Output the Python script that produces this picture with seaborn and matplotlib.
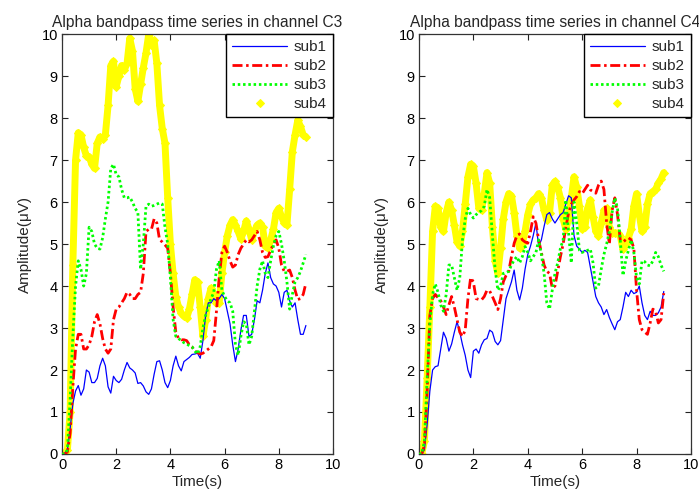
import numpy as np
import pandas as pd
import matplotlib
matplotlib.use("Agg")
import matplotlib.pyplot as plt
import seaborn as sns

# time axis (s), sampled every 0.1 s
time_s = [round(0.1 * i, 1) for i in range(91)]

# ---- channel C3 ----
c3_sub1 = [0, 0.02, 0.1, 0.6, 1.2, 1.5, 1.63, 1.4, 1.55, 2.0,
           1.95, 1.7, 1.7, 1.8, 2.1, 2.28, 2.1, 1.6, 1.45, 1.85,
           1.75, 1.7, 1.78, 2.0, 2.18, 2.05, 2.0, 1.93, 1.68, 1.7,
           1.62, 1.48, 1.42, 1.55, 1.9, 2.2, 2.22, 2.0, 1.7, 1.58,
           1.75, 2.1, 2.33, 2.1, 1.98, 2.2, 2.25, 2.3, 2.37, 2.38,
           2.4, 2.28, 2.7, 3.3, 3.6, 3.6, 3.7, 3.65, 3.7, 3.8,
           3.7, 3.4, 3.1, 2.6, 2.2, 2.5, 2.95, 3.3, 3.3, 2.8,
           2.85, 3.2, 3.65, 3.6, 3.9, 4.3, 4.55, 4.2, 4.05, 4.0,
           3.85, 3.5, 3.85, 3.9, 3.65, 3.5, 3.6, 3.2, 2.85, 2.85,
           3.06]
c3_sub2 = [0, 0.0, 0.05, 0.5, 1.6, 2.5, 2.85, 2.85, 2.5, 2.5,
           2.6, 2.8, 3.15, 3.32, 3.1, 2.75, 2.5, 2.4, 2.5, 3.2,
           3.45, 3.5, 3.6, 3.7, 3.85, 3.8, 3.7, 3.7, 3.8, 3.85,
           4.3, 5.3, 5.35, 5.35, 5.6, 5.5, 5.1, 5.05, 4.98, 4.9,
           4.3, 3.5, 2.9, 2.75, 2.72, 2.72, 2.7, 2.6, 2.55, 2.45,
           2.42, 2.38, 2.4, 2.45, 2.5, 2.55, 2.7, 3.4, 4.2, 4.8,
           4.95, 4.8, 4.6, 4.45, 4.5, 4.75, 4.9, 5.0, 5.1, 5.05,
           5.1, 5.2, 5.3, 5.1, 4.8, 4.68, 4.7, 4.85, 5.0, 5.1,
           4.9, 4.5, 4.35, 4.35, 4.38, 4.2, 3.9, 3.68, 3.7, 3.8,
           4.07]
c3_sub3 = [0, 0.0, 0.1, 1.3, 2.8, 4.0, 4.6, 4.4, 4.0, 4.3,
           5.4, 5.3, 5.0, 4.9, 4.88, 5.15, 5.6, 6.0, 6.8, 6.9,
           6.65, 6.6, 6.3, 6.1, 6.1, 6.12, 6.0, 5.85, 5.75, 4.4,
           5.0, 5.9, 5.95, 5.9, 5.92, 5.95, 5.98, 5.95, 5.4, 5.0,
           4.2, 3.2, 2.8, 2.75, 2.7, 2.65, 2.62, 2.58, 2.55, 2.45,
           2.38, 2.56, 3.0, 3.3, 3.5, 3.7, 3.85, 4.4, 4.6, 3.9,
           3.75, 3.65, 3.6, 3.4, 2.6, 2.35, 2.8, 3.15, 3.1, 2.6,
           2.8, 3.4, 4.0, 4.4, 4.6, 4.3, 4.2, 4.6, 4.95, 5.2,
           5.3, 5.0, 4.6, 4.1, 3.45, 3.8, 4.1, 4.2, 4.35, 4.55,
           4.75]
c3_sub4 = [0, 0, 0.1, 1.0, 4.5, 7.0, 7.65, 7.6, 7.3, 7.1,
           7.08, 6.9, 6.8, 7.4, 7.55, 7.5, 7.6, 8.3, 9.25, 9.35,
           8.75, 9.0, 9.25, 9.15, 9.3, 9.9, 9.6, 8.7, 8.4, 8.8,
           9.2, 9.55, 10.0, 9.75, 9.85, 9.3, 8.3, 7.75, 7.4, 6.1,
           5.0, 4.3, 3.75, 3.5, 3.35, 3.28, 3.24, 3.45, 3.8, 4.15,
           4.1, 3.5, 2.8, 3.2, 3.7, 3.95, 3.8, 3.6, 3.6, 4.3,
           4.8, 5.2, 5.45, 5.58, 5.45, 5.3, 5.12, 5.3, 5.55, 5.35,
           5.1, 5.3, 5.45, 5.5, 5.4, 4.95, 4.9, 5.1, 5.35, 5.75,
           5.85, 5.65, 5.5, 5.45, 6.3, 7.2, 7.6, 7.95, 7.8, 7.6,
           7.55]

# ---- channel C4 ----
c4_sub1 = [0, 0.0, 0.1, 0.7, 1.5, 2.0, 2.08, 2.1, 2.5, 2.9,
           2.75, 2.45, 2.62, 2.9, 3.15, 2.9, 2.6, 2.35, 2.0, 1.82,
           2.45, 2.5, 2.4, 2.6, 2.72, 2.75, 2.95, 2.9, 2.68, 2.6,
           2.7, 3.2, 3.7, 3.9, 4.1, 4.38, 3.9, 3.67, 3.95, 4.4,
           4.75, 4.95, 5.2, 5.5, 4.95, 5.1, 5.42, 5.7, 5.75, 5.6,
           5.5, 5.6, 5.7, 5.75, 5.95, 6.15, 6.1, 5.2, 4.95, 4.88,
           4.8, 4.85, 4.8, 4.45, 4.1, 3.75, 3.6, 3.5, 3.32, 3.44,
           3.25, 3.1, 2.96, 3.15, 3.2, 3.5, 3.85, 3.75, 3.9, 3.82,
           3.85, 4.0, 3.6, 3.3, 3.2, 3.4, 3.3, 3.3, 3.36, 3.5,
           3.87]
c4_sub2 = [0, 0.0, 0.2, 1.5, 3.3, 3.7, 3.8, 3.72, 3.65, 3.5,
           3.32, 3.55, 3.75, 3.5, 3.2, 2.9, 2.8, 2.95, 3.7, 4.2,
           4.1, 3.7, 3.68, 3.67, 3.75, 3.9, 3.88, 3.75, 3.6, 3.44,
           3.7, 4.1, 4.25, 4.35, 4.7, 5.02, 5.2, 5.24, 5.1, 5.05,
           5.02, 5.3, 5.65, 5.5, 5.1, 4.8, 4.5, 4.35, 4.3, 3.95,
           4.0, 4.35, 4.7, 5.0, 5.4, 5.74, 5.95, 6.05, 6.13, 6.25,
           6.2, 6.3, 6.4, 6.29, 6.25, 6.21, 6.4, 6.5, 6.3, 5.5,
           5.0, 5.8, 6.1, 5.7, 5.1, 5.05, 5.1, 5.15, 5.1, 4.9,
           3.9, 3.2, 2.96, 2.9, 2.85, 3.12, 3.45, 3.4, 3.12, 3.2,
           3.83]
c4_sub3 = [0, 0.0, 0.3, 1.8, 3.1, 3.8, 4.05, 3.85, 3.55, 3.4,
           3.8, 4.5, 4.5, 4.2, 3.9, 4.2, 5.1, 5.6, 5.85, 5.7,
           5.62, 5.7, 5.75, 5.8, 5.9, 6.3, 6.1, 5.2, 4.4, 3.9,
           4.0, 4.3, 4.32, 4.35, 4.5, 4.62, 4.7, 4.55, 4.7, 4.94,
           4.8, 4.6, 4.7, 4.8, 5.1, 4.75, 4.3, 3.6, 3.45, 3.9,
           4.3, 4.55, 4.9, 5.1, 6.05, 5.26, 4.55, 6.0, 5.5, 4.85,
           4.8, 4.83, 4.85, 4.88, 4.55, 3.95, 4.0, 4.4, 4.75, 5.0,
           5.3, 5.75, 6.1, 5.85, 5.1, 4.25, 4.6, 4.85, 5.1, 4.8,
           4.2, 4.05, 4.6, 4.58, 4.5, 4.48, 4.6, 4.8, 4.7, 4.5,
           4.35]
c4_sub4 = [0, 0.0, 0.3, 1.8, 3.5, 5.3, 5.9, 5.85, 5.4, 5.3,
           5.75, 6.0, 5.8, 5.45, 5.05, 4.95, 5.3, 5.95, 6.6, 6.9,
           6.85, 6.45, 5.85, 5.8, 6.2, 6.7, 6.45, 5.4, 4.6, 4.3,
           4.9, 5.6, 6.0, 6.2, 6.15, 5.75, 5.2, 4.9, 5.0, 5.3,
           5.7, 5.95, 6.05, 6.1, 6.2, 6.1, 5.8, 5.58, 5.74, 6.4,
           6.49, 6.35, 6.1, 5.6, 5.35, 5.6, 6.1, 6.6, 6.35, 5.9,
           5.35, 5.4, 5.85, 6.05, 5.65, 5.3, 5.2, 5.5, 5.8, 5.85,
           5.4, 5.26, 5.26, 5.26, 5.2, 4.87, 5.0, 5.15, 5.35, 5.9,
           6.2, 5.7, 5.3, 5.4, 5.95, 6.2, 6.25, 6.3, 6.45, 6.55,
           6.7]

series_names = ["sub1", "sub2", "sub3", "sub4"]
channels = ["C3", "C4"]
x_ticks = [0, 2, 4, 6, 8, 10]
y_ticks = [0, 1, 2, 3, 4, 5, 6, 7, 8, 9, 10]

panel_data = {
    "C3": [c3_sub1, c3_sub2, c3_sub3, c3_sub4],
    "C4": [c4_sub1, c4_sub2, c4_sub3, c4_sub4],
}

sns.set_theme(style="white")
plt.rcParams["font.family"] = ["Liberation Sans", "DejaVu Sans"]

fig = plt.figure(figsize=(6.99, 4.94), dpi=100, facecolor="white")
positions = [[0.0887, 0.081, 0.3877, 0.850], [0.5994, 0.081, 0.3891, 0.850]]

styles = [
    dict(color="#0000FF", lw=0.9, linestyle="-", zorder=3),
    dict(color="#FF0000", lw=2.0, linestyle=(0, (3.6, 1.3, 0.9, 1.3)), zorder=3),
    dict(color="#00FF00", lw=2.0, linestyle=(0, (0.9, 1.0)), zorder=3),
    dict(color="#FFFF00", lw=5.0, linestyle="-", marker="D", markersize=4.5,
         markeredgecolor="#FFFF00", markerfacecolor="#FFFF00", zorder=2),
]

for ch, pos in zip(channels, positions):
    ax = fig.add_axes(pos)
    ax.set_facecolor("white")
    for name, vals, st in zip(series_names, panel_data[ch], styles):
        df = pd.DataFrame({"Time": time_s, "Amp": vals})
        sns.lineplot(data=df, x="Time", y="Amp", ax=ax, label=name,
                     estimator=None, sort=False, **st)
    ax.set_xlim(0, 10)
    ax.set_ylim(0, 10)
    ax.set_xticks(x_ticks)
    ax.set_yticks(y_ticks)
    ax.tick_params(direction="in", length=4, width=0.8, colors="#222222",
                   labelsize=10.5, top=True, right=True, bottom=True, left=True,
                   labelcolor="black", pad=3)
    for sp in ax.spines.values():
        sp.set_visible(True)
        sp.set_color("#333333")
        sp.set_linewidth(0.9)
    ax.set_xlabel("Time(s)", fontsize=11, labelpad=2)
    ax.set_ylabel("Amplitude(\u03bcV)", fontsize=11, labelpad=7)
    ax.set_title(f"Alpha bandpass time series in channel {ch}", fontsize=11.2, pad=5)
    ax.grid(False)
    leg = ax.legend(loc="upper right", fontsize=11, frameon=True, fancybox=False,
                    edgecolor="black", framealpha=1, borderaxespad=0,
                    handlelength=3.6, handletextpad=0.45, labelspacing=0.32,
                    borderpad=0.4, numpoints=1)
    leg.get_frame().set_linewidth(1.0)
    lines = leg.get_lines()
    lines[3].set_linestyle("None")
    lines[3].set_marker("D")
    lines[3].set_markersize(4)

fig.savefig("out.png", dpi=100, facecolor="white")
